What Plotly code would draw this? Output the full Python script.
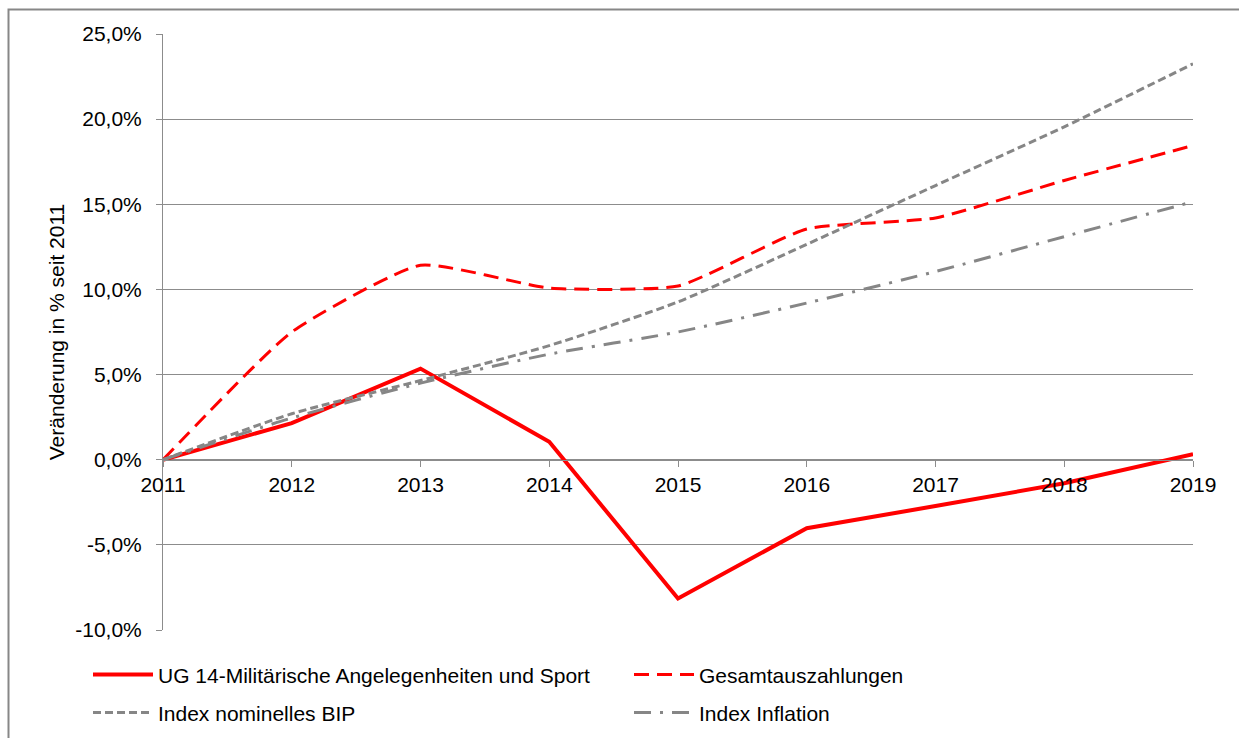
import plotly.graph_objects as go

years = [2011, 2012, 2013, 2014, 2015, 2016, 2017, 2018, 2019]
ug14 = [0.0, 2.15, 5.35, 1.05, -8.15, -4.02, -2.72, -1.38, 0.33]
gesamt = [0.0, 7.5, 11.42, 10.08, 10.2, 13.55, 14.2, 16.4, 18.45]
bip = [0.0, 2.7, 4.65, 6.7, 9.27, 12.65, 16.1, 19.55, 23.25]
inflation = [0.0, 2.45, 4.5, 6.2, 7.5, 9.2, 11.05, 13.1, 15.15]

y_tickvals = [-10, -5, 0, 5, 10, 15, 20, 25]
y_ticktext = ["-10,0%", "-5,0%", "0,0%", "5,0%", "10,0%", "15,0%", "20,0%", "25,0%"]

names = ["UG 14-Militärische Angelegenheiten und Sport", "Gesamtauszahlungen",
         "Index nominelles BIP", "Index Inflation"]

FONT = "Liberation Sans, Arial, sans-serif"
GRID = "#8c8c8c"

fig = go.Figure()
fig.add_trace(go.Scatter(x=years, y=ug14, mode="lines", name=names[0],
                         line=dict(color="#ff0000", width=4), legend="legend"))
fig.add_trace(go.Scatter(x=years, y=gesamt, mode="lines", name=names[1],
                         line=dict(color="#ff0000", width=3, dash="15px,8px", shape="spline", smoothing=0.5),
                         legend="legend"))
fig.add_trace(go.Scatter(x=years, y=bip, mode="lines", name=names[2],
                         line=dict(color="#868686", width=3, dash="8px,4px", shape="spline", smoothing=0.6),
                         legend="legend2"))
fig.add_trace(go.Scatter(x=years, y=inflation, mode="lines", name=names[3],
                         line=dict(color="#868686", width=3, dash="17px,9px,3px,9px", shape="spline", smoothing=0.6),
                         legend="legend2"))

W, H = 1239, 738
ml, mr, mt, mb = 163, 46, 33.5, 108
pw = W - ml - mr
ph = H - mt - mb

def px_to_paper_x(px):
    return (px - ml) / pw

def px_to_paper_y(py):
    return (H - mb - py) / ph

legend_common = dict(orientation="h", xanchor="left", yanchor="middle",
                     font=dict(family=FONT, size=21, color="#000000"),
                     itemwidth=60, entrywidth=466, bgcolor="rgba(0,0,0,0)",
                     traceorder="normal")

fig.update_layout(
    width=W, height=H,
    margin=dict(l=ml, r=mr, t=mt, b=mb, autoexpand=False),
    paper_bgcolor="white", plot_bgcolor="white",
    font=dict(family=FONT, size=21, color="#000000"),
    showlegend=True,
    legend=dict(x=px_to_paper_x(88), y=px_to_paper_y(675), **legend_common),
    legend2=dict(x=px_to_paper_x(88), y=px_to_paper_y(713), **legend_common),
    xaxis=dict(range=[2011, 2019], tickmode="array", tickvals=years,
               ticktext=[str(y) for y in years],
               showgrid=False, showline=True, linecolor=GRID, linewidth=1,
               ticks="outside", ticklen=6, tickcolor=GRID,
               anchor="free", position=10 / 35, zeroline=False,
               tickfont=dict(family=FONT, size=21)),
    yaxis=dict(range=[-10, 25], tickmode="array", tickvals=y_tickvals, ticktext=y_ticktext,
               showgrid=True, gridcolor=GRID, gridwidth=1,
               showline=True, linecolor=GRID, linewidth=1,
               ticks="outside", ticklen=6, tickcolor=GRID, zeroline=False,
               ticklabelstandoff=10,
               tickfont=dict(family=FONT, size=21),
               title=dict(text="Veränderung in % seit 2011",
                          font=dict(family=FONT, size=21), standoff=4)),
)

fig.add_shape(type="rect", xref="paper", yref="paper",
              x0=px_to_paper_x(8.5), x1=px_to_paper_x(1250),
              y0=px_to_paper_y(750), y1=px_to_paper_y(9),
              line=dict(color="#878787", width=2), fillcolor="rgba(0,0,0,0)",
              layer="below")

fig.write_html("out.html")
